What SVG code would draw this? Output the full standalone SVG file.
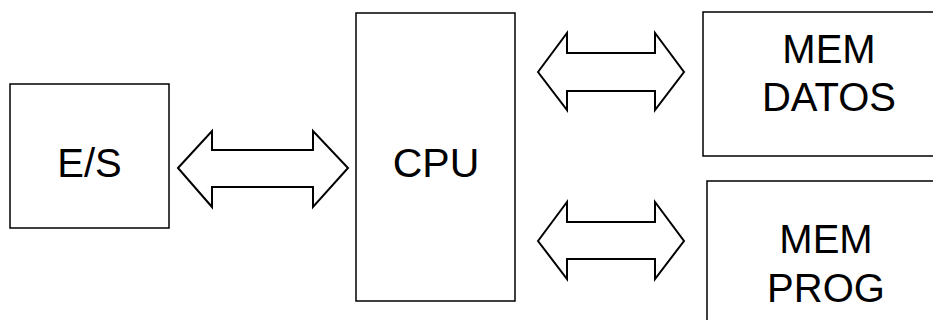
<svg xmlns="http://www.w3.org/2000/svg" width="933" height="320" viewBox="0 0 933 320">
<style>
.box{fill:#fff;stroke:#000;stroke-width:1.5}
.arr{fill:#fff;stroke:#000;stroke-width:2;stroke-linejoin:miter}
.t{font-family:"Liberation Sans",Arial,sans-serif;font-size:40px;fill:#000;text-anchor:middle}
</style>
<rect width="933" height="320" fill="#fff"/>
<g id="es"><rect class="box" x="10" y="84" width="159" height="144"/><text class="t" x="89.5" y="177">E/S</text></g>
<g id="cpu"><rect class="box" x="356" y="13" width="159" height="288"/><text class="t" x="436" y="177" style="font-size:41px">CPU</text></g>
<g id="memdatos"><rect class="box" x="703" y="12" width="240" height="144"/><text class="t" x="829" y="63">MEM</text><text class="t" x="829" y="111">DATOS</text></g>
<g id="memprog"><rect class="box" x="707" y="181" width="240" height="150"/><text class="t" x="826" y="253">MEM</text><text class="t" x="826" y="302">PROG</text></g>
<g id="connectors">
<polygon class="arr" points="178,168 212,131 212,150 313,150 313,131 348,168 313,207 313,187 212,187 212,207"/>
<polygon class="arr" points="538,72 567,33 567,53 655,53 655,33 684,72 655,110 655,91 567,91 567,110"/>
<polygon class="arr" points="538,241 567,202 567,222 655,222 655,202 684,241 655,279 655,259 567,259 567,279"/>
</g>
</svg>
